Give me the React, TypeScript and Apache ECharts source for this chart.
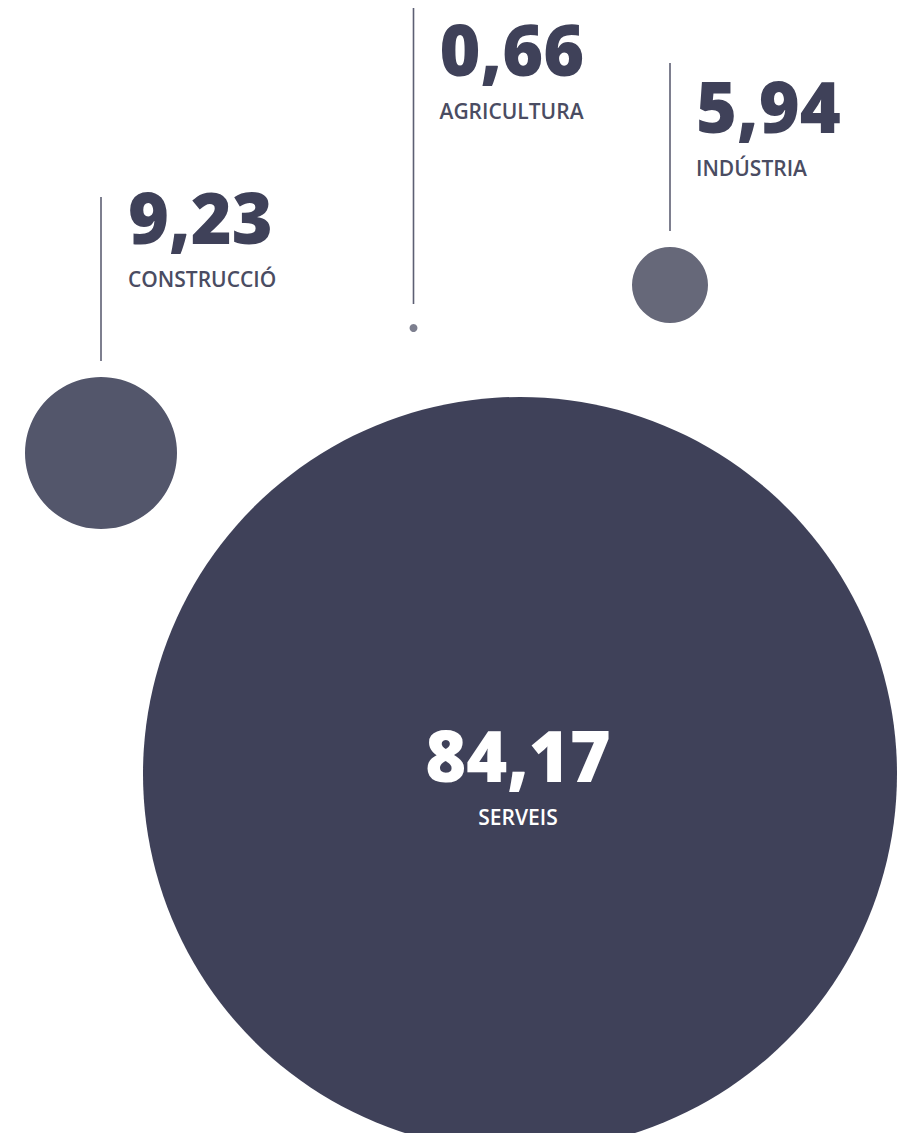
import React, { useEffect, useRef } from "react";
import * as echarts from "echarts";

// ---- data ----
const categories = ["Serveis", "Construcció", "Indústria", "Agricultura"];
const labels = ["SERVEIS", "CONSTRUCCIÓ", "INDÚSTRIA", "AGRICULTURA"];
const values = [84.17, 9.23, 5.94, 0.66];

// ---- layout (pixel space of the 908x1133 canvas) ----
const centersX = [520, 101, 670, 413.5];
const centersY = [774, 453, 285, 328];
const radii = [377, 76, 38, 4];
// callout leader lines [x, top, bottom] (null = label inside bubble)
const leaders: ([number, number, number] | null)[] = [
  null,
  [101, 197, 361],
  [670, 63, 231],
  [413.5, 8, 304],
];
// number text [x, centerY]
const numberPos: [number, number][] = [
  [518, 755],
  [128, 217],
  [696, 106],
  [439.5, 49],
];
const labelGap = 62;

const bubbleColors = ["#3f4159", "#53566b", "#666879", "#7d7f8f"];
const darkText = "#3f4159";
const labelText = "#4a4c62";
const lineColor = "#5d5f73";

const fmt = (v: number) => v.toFixed(2).replace(".", ",");

export default function App() {
  const ref = useRef<HTMLDivElement>(null);
  useEffect(() => {
    document.body.style.margin = "0";
    if (!ref.current) return;
    const chart = echarts.init(ref.current, undefined, { renderer: "svg" });
    const scatterData = values.map((v, i) => ({
      name: categories[i],
      value: [centersX[i], centersY[i], v],
      symbolSize: radii[i] * 2,
      itemStyle: { color: bubbleColors[i], opacity: 1 },
    }));
    const calloutData = values.map((v, i) => ({
      name: categories[i],
      value: [numberPos[i][0], numberPos[i][1], v, i],
    }));
    chart.setOption({
      animation: false,
      grid: { left: 0, right: 0, top: 0, bottom: 0 },
      xAxis: { type: "value", min: 0, max: 908, show: false },
      yAxis: { type: "value", min: 0, max: 1133, inverse: true, show: false },
      series: [
        {
          type: "scatter",
          symbol: "circle",
          data: scatterData,
          silent: true,
          itemStyle: { opacity: 1 },
          z: 1,
        },
        {
          type: "custom",
          z: 2,
          data: calloutData,
          renderItem: (params: any, api: any) => {
            const i = api.value(3) as number;
            const p = api.coord([api.value(0), api.value(1)]);
            const v = api.value(2) as number;
            const inside = leaders[i] === null;
            const children: any[] = [];
            const ld = leaders[i];
            if (ld) {
              const a = api.coord([ld[0], ld[1]]);
              const b = api.coord([ld[0], ld[2]]);
              children.push({
                type: "line",
                shape: { x1: a[0], y1: a[1], x2: b[0], y2: b[1] },
                style: { stroke: lineColor, lineWidth: 1.6 },
              });
            }
            children.push({
              type: "text",
              x: p[0],
              y: p[1],
              style: {
                text: fmt(v),
                fill: inside ? "#ffffff" : darkText,
                font: "800 70px 'Open Sans'",
                align: inside ? "center" : "left",
                verticalAlign: "middle",
              },
            });
            children.push({
              type: "text",
              x: p[0],
              y: p[1] + labelGap,
              style: {
                text: labels[i],
                fill: inside ? "#ffffff" : labelText,
                font: "600 21px 'Open Sans'",
                align: inside ? "center" : "left",
                verticalAlign: "middle",
              },
            });
            return { type: "group", children };
          },
        },
      ],
    });
    return () => chart.dispose();
  }, []);
  return <div ref={ref} style={{ width: 908, height: 1133 }} />;
}
